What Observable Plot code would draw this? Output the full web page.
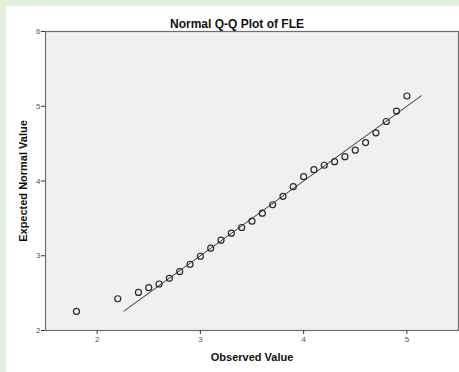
<!DOCTYPE html>
<html>
<head>
<meta charset="utf-8">
<script src="https://cdn.jsdelivr.net/npm/d3@7"></script>
<script src="https://cdn.jsdelivr.net/npm/@observablehq/plot@0.6"></script>
<style>
  html, body { margin: 0; padding: 0; background: #e2efda; }
  #chart { position: absolute; left: 6px; top: 6px; width: 453px; height: 366px; background: #ffffff; }
  #chart svg { display: block; background: #ffffff; }
</style>
</head>
<body>
<div id="chart"></div>
<script>
const title = "Normal Q-Q Plot of FLE";
const xLabel = "Observed Value";
const yLabel = "Expected Normal Value";
const xTicks = [2, 3, 4, 5];
const yTicks = [2, 3, 4, 5, 6];
const observed = [1.8, 2.2, 2.4, 2.5, 2.6, 2.7, 2.8, 2.9, 3.0, 3.1, 3.2, 3.3, 3.4, 3.5, 3.6, 3.7, 3.8, 3.9, 4.0, 4.1, 4.2, 4.3, 4.4, 4.5, 4.6, 4.7, 4.8, 4.9, 5.0];
const expected = [2.255, 2.425, 2.51, 2.573, 2.622, 2.698, 2.788, 2.886, 2.993, 3.101, 3.208, 3.302, 3.378, 3.463, 3.570, 3.682, 3.795, 3.924, 4.058, 4.152, 4.211, 4.259, 4.326, 4.412, 4.514, 4.644, 4.796, 4.936, 5.137];
const refLine = [2.26, 5.14];

const points = observed.map((o, i) => ({observed: o, expected: expected[i]}));
const font = "Liberation Sans, Arial, sans-serif";

const chart = Plot.plot({
  width: 453,
  height: 366,
  marginLeft: 39,
  marginTop: 25,
  marginRight: 1,
  marginBottom: 42,
  style: {fontFamily: font, background: "#ffffff", overflow: "visible"},
  x: {domain: [1.5, 5.5]},
  y: {domain: [2, 6]},
  marks: [
    Plot.frame({fill: "#f0f0f0", stroke: null}),
    Plot.line(refLine, {x: d => d, y: d => d, stroke: "#333", strokeWidth: 1}),
    Plot.dot(points, {x: "observed", y: "expected", r: 3, fill: "none", stroke: "#2a2a2a", strokeWidth: 1.2}),
    Plot.frame({stroke: "#6e6e6e", strokeWidth: 1.2}),
    Plot.axisX({ticks: xTicks, tickFormat: d3.format("d"), tickSize: 4, tickPadding: 2, fontSize: 8, label: null, stroke: "#333", fill: "#555"}),
    Plot.axisY({ticks: yTicks, tickFormat: d3.format("d"), tickSize: 4, tickPadding: 1, fontSize: 8, label: null, stroke: "#333", fill: "#555"}),
    Plot.text([title], {frameAnchor: "top", lineAnchor: "middle", dx: -15, dy: -7, fontSize: 12, fontWeight: "bold", fill: "#111"}),
    Plot.text([xLabel], {frameAnchor: "bottom", lineAnchor: "middle", dy: 27, fontSize: 11, fontWeight: "bold", fill: "#111"}),
    Plot.text([yLabel], {frameAnchor: "left", textAnchor: "middle", lineAnchor: "middle", dx: -22, rotate: -90, fontSize: 11, fontWeight: "bold", fill: "#111"})
  ]
});
document.getElementById("chart").appendChild(chart);
</script>
</body>
</html>
